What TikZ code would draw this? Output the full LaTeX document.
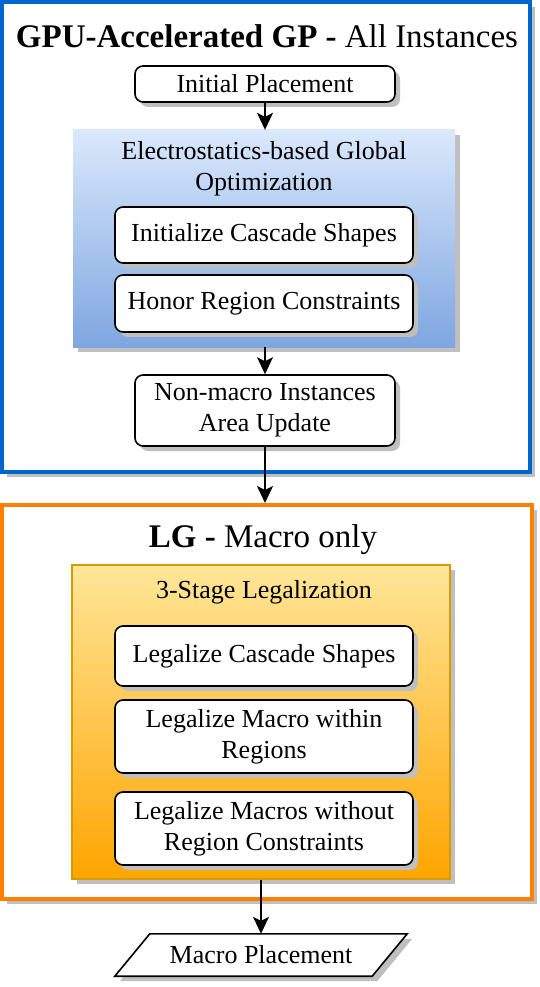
\documentclass[tikz,border=0pt]{standalone}
\usepackage{fontspec}
\setmainfont{Liberation Serif}
\usetikzlibrary{arrows.meta,shadows}

\definecolor{gpblue}{HTML}{0066CC}
\definecolor{lgorange}{HTML}{FF8000}
\definecolor{bluetop}{HTML}{DAE8FC}
\definecolor{bluebot}{HTML}{7EA6E0}
\definecolor{orgtop}{HTML}{FFE699}
\definecolor{orgbot}{HTML}{FFA500}
\definecolor{orgline}{HTML}{D79B00}
\definecolor{shadegray}{HTML}{BFBFBF}

\newcommand{\boxfont}{\fontsize{26}{31}\selectfont}
\newcommand{\headfont}{\fontsize{33}{38}\selectfont}

\tikzset{
  shadowed/.style={drop shadow={shadow xshift=5pt,shadow yshift=-5pt,opacity=1,fill=shadegray}},
  stagebox/.style={draw=black,line width=1.6pt,fill=white,rounded corners=8pt,shadowed,
    inner sep=0pt,align=center,font=\boxfont},
  frame/.style={line width=4pt,fill=white,shadowed,inner sep=0pt},
  flow/.style={line width=1.6pt,-{Stealth[length=17pt,width=16pt,inset=4pt]}}
}

\begin{document}
\begin{tikzpicture}[x=1pt,y=-1pt]
  \useasboundingbox (0,0) rectangle (540,987);

  \node (gp) [frame,draw=gpblue,minimum width=528pt,minimum height=470pt] at (266,237) {};
  \node (lg) [frame,draw=lgorange,minimum width=530pt,minimum height=394pt] at (267,702) {};

  \node (gptitle) [anchor=base,font=\headfont] at (267,48) {\textbf{GPU-Accelerated GP -} All Instances};
  \node (lgtitle) [anchor=base,font=\headfont] at (263,547) {\textbf{LG -} Macro only};

  \node (init) [stagebox,minimum width=260pt,minimum height=36pt] at (265,84) {Initial Placement};

  \node (gpopt) [shadowed,top color=bluetop,bottom color=bluebot,inner sep=0pt,
    minimum width=382pt,minimum height=217pt] at (264,238.5) {};
  \node (gplabel) [align=center,font=\boxfont] at (264,169) {Electrostatics-based Global\\Optimization};
  \node (cascade) [stagebox,minimum width=298pt,minimum height=56pt] at (264,235) {Initialize Cascade Shapes};
  \node (honor) [stagebox,minimum width=298pt,minimum height=57pt] at (264,303.5) {Honor Region Constraints};

  \node (nonmacro) [stagebox,minimum width=260pt,minimum height=71pt] at (265,410.5) {Non-macro Instances\\Area Update};

  \node (legal) [shadowed,draw=orgline,line width=1.2pt,top color=orgtop,bottom color=orgbot,inner sep=0pt,
    minimum width=378pt,minimum height=314pt] at (261,722) {};
  \node (legallabel) [font=\boxfont] at (264,592) {3-Stage Legalization};
  \node (lcs) [stagebox,minimum width=298pt,minimum height=60pt] at (264,656) {Legalize Cascade Shapes};
  \node (lmw) [stagebox,minimum width=298pt,minimum height=73pt] at (264,736.5) {Legalize Macro within\\Regions};
  \node (lmr) [stagebox,minimum width=298pt,minimum height=73pt] at (264,828.5) {Legalize Macros without\\Region Constraints};

  \node (placement) [inner sep=0pt,minimum width=292pt,minimum height=42pt] at (261,955) {};
  \draw[line width=1.6pt,fill=white,shadowed] (placement.south west) -- ([xshift=35pt]placement.north west)
    -- (placement.north east) -- ([xshift=-35pt]placement.south east) -- cycle;
  \node (placementtext) [font=\boxfont] at (placement) {Macro Placement};

  \draw[flow] (init.south) -- (init.south |- gpopt.north);
  \draw[flow] (nonmacro.south |- gpopt.south) -- (nonmacro.north);
  \draw[flow] (nonmacro.south) -- (nonmacro.south |- lg.north);
  \draw[flow] (placement.north |- legal.south) -- (placement.north);
\end{tikzpicture}
\end{document}
